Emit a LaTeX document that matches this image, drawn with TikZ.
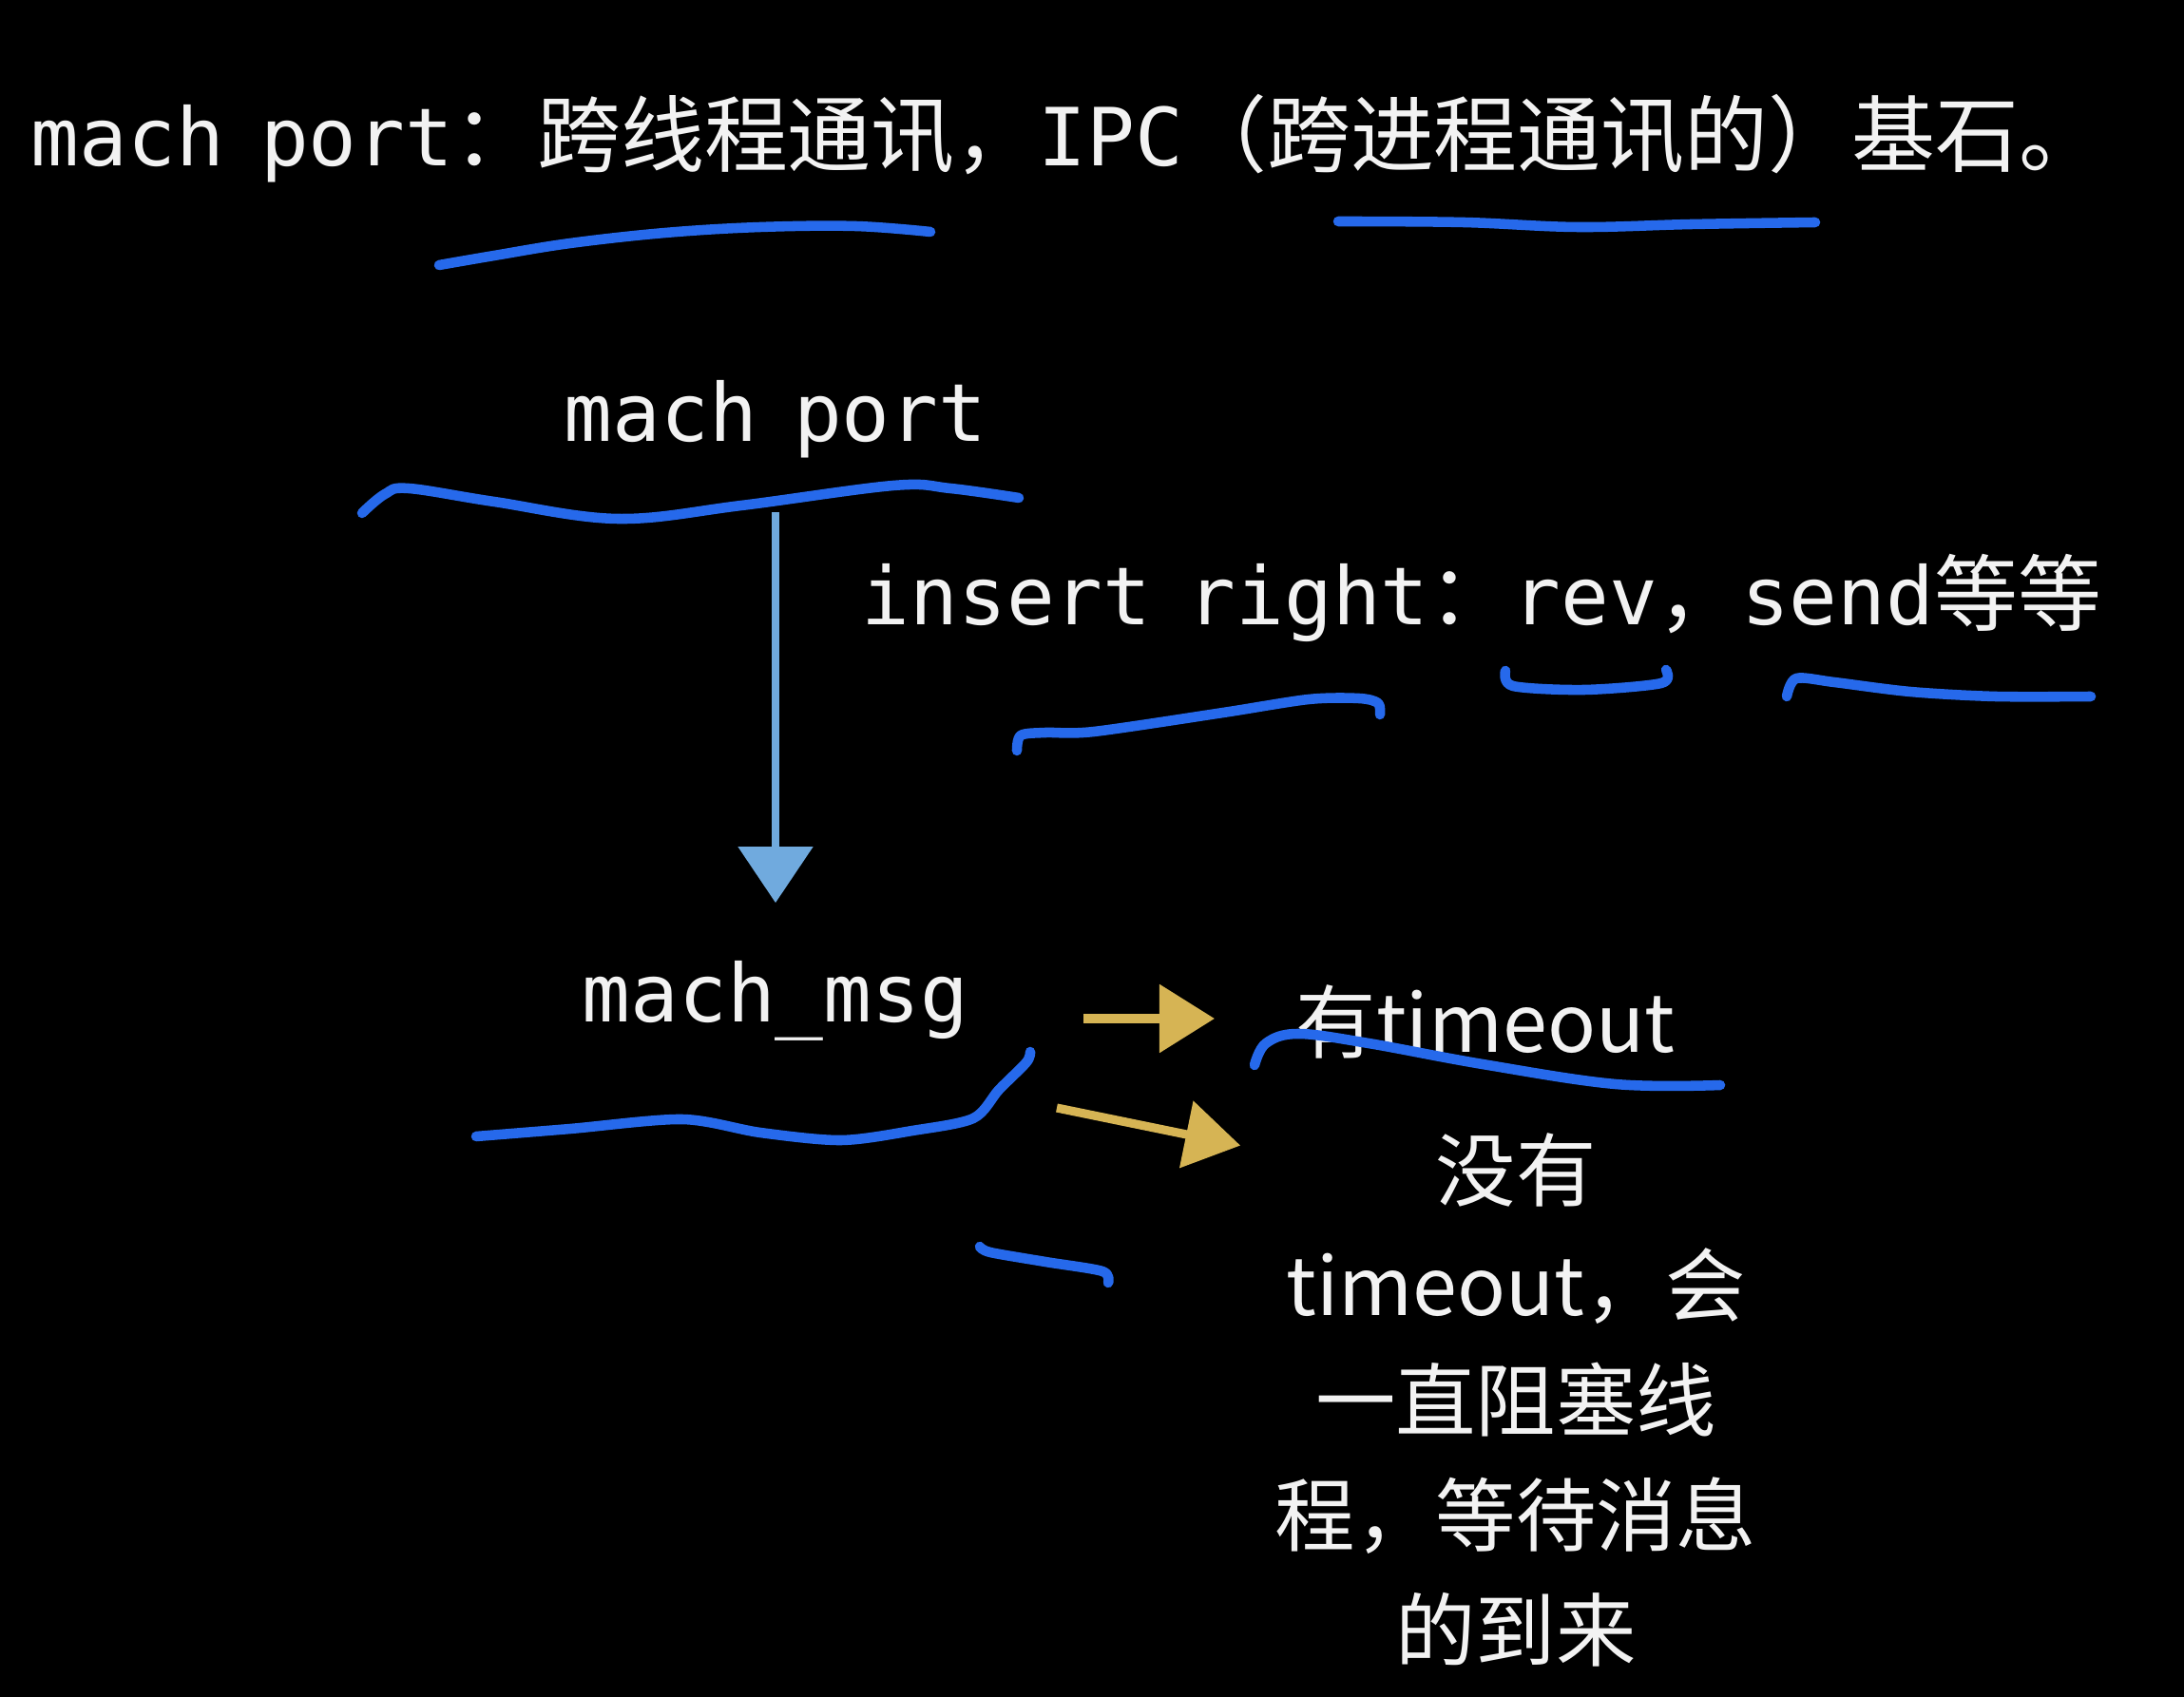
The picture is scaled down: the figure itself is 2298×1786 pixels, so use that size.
\documentclass[tikz,border=0pt]{standalone}
\usepackage{fontspec}
\newfontfamily\monofam[WordSpace=0.75]{DejaVu Sans Mono}
\newfontfamily\cjkfam{Noto Sans CJK SC}
\newcommand{\cjkw}[1]{{\fontsize{25pt}{34pt}\selectfont\cjkfam #1}}
\usetikzlibrary{arrows.meta,calc}
\definecolor{ink}{RGB}{242,242,242}
\definecolor{pen}{RGB}{38,105,235}
\definecolor{skyarrow}{RGB}{112,170,222}
\definecolor{gold}{RGB}{214,180,84}
\begin{document}
\begin{tikzpicture}[x=0.01cm,y=-0.01cm,
  txt/.style={inner sep=0pt, text=ink},
  monotxt/.style={txt, font=\fontsize{24pt}{34.4pt}\selectfont\monofam},
  cjktxt/.style={txt, font=\fontsize{24pt}{34.4pt}\selectfont\cjkfam},
  hl/.style={draw=pen, line width=3pt, line cap=round, line join=round},
  goldarrow/.style={draw=gold, line width=2.6pt, -{Triangle[length=0.58cm,width=0.70cm]}},
  skyconn/.style={draw=skyarrow, line width=2.4pt, -{Triangle[length=0.59cm,width=0.77cm]}}
]
\fill[black] (0,0) rectangle (2298,1786);
\useasboundingbox (0,0) rectangle (2298,1786);

% texts
\node[monotxt, anchor=base west] (title) at (32,175)
  {mach port\cjkw{：跨线程通讯，}IPC\cjkw{（跨进程通讯的）基石。}};
\node[monotxt, anchor=base] (mp) at (816,465) {mach port};
\node[monotxt, anchor=base west] (ir) at (906,658)
  {insert right\cjkw{：}rev\cjkw{，}send\cjkw{等等}};
\node[monotxt, anchor=base] (mm) at (816,1075) {mach\_msg};
\node[cjktxt, anchor=base west] (to1) at (1363,1107) {有timeout};
\node[cjktxt, anchor=center, align=center] (to2) at (1595,1473)
  {没有\\timeout，会\\一直阻塞线\\程，等待消息\\的到来};

% connectors
\draw[skyconn] ($(mp.south)+(0,56)$) -- ($(mm.north)+(0,-60)$);
\draw[goldarrow] ($(mm.base east)+(120,-3)$) -- ($(to1.base west)+(-85,-35)$);
\draw[goldarrow] ($(mm.base east)+(92,91)$) -- ($(to2.north west)+(-36,14)$);

% hand-drawn underlines
\draw[hl] plot[smooth, tension=0.6] coordinates {(462,279) (520,269) (600,256) (700,245) (800,239) (900,238) (979,244)};
\draw[hl] plot[smooth, tension=0.6] coordinates {(1408,233) (1540,234) (1660,239) (1780,236) (1910,234)};
\draw[hl] plot[smooth, tension=0.6] coordinates {(381,540) (405,520) (430,514) (520,528) (650,546) (780,532) (940,511) (1000,514) (1072,524)};
\draw[hl] plot[smooth, tension=0.5] coordinates {(1070,790) (1074,774) (1100,771) (1151,770) (1287,750) (1377,736) (1430,735) (1450,740) (1452,752)};
\draw[hl] plot[smooth, tension=0.5] coordinates {(1584,706) (1592,722) (1667,726) (1748,719) (1753,705)};
\draw[hl] plot[smooth, tension=0.5] coordinates {(1880,733) (1890,714) (1930,718) (2010,728) (2100,733) (2200,733)};
\draw[hl] plot[smooth, tension=0.5] coordinates {(501,1196) (600,1188) (718,1178) (800,1192) (885,1200) (960,1190) (1024,1177) (1051,1147) (1080,1118) (1084,1107)};
\draw[hl] plot[smooth, tension=0.6] coordinates {(1320,1121) (1332,1098) (1366,1088) (1440,1098) (1560,1120) (1700,1141) (1810,1142)};
\draw[hl] plot[smooth, tension=0.5] coordinates {(1031,1312) (1042,1318) (1100,1328) (1160,1338) (1166,1350)};
\end{tikzpicture}
\end{document}
